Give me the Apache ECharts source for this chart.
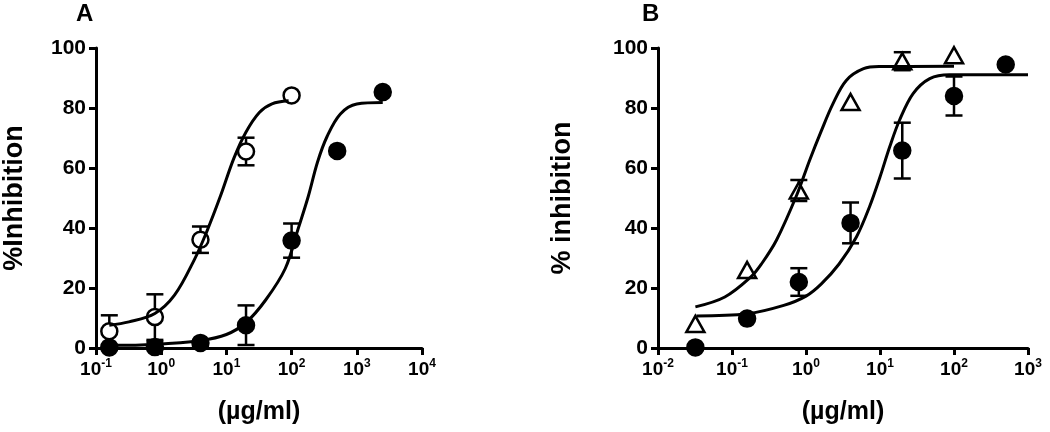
<!DOCTYPE html>
<html>
<head>
<meta charset="utf-8">
<script src="https://cdn.jsdelivr.net/npm/echarts@6/dist/echarts.min.js"></script>
<style>
html,body{margin:0;padding:0;background:#fff;}
#chart{width:1050px;height:432px;}
</style>
</head>
<body>
<div id="chart"></div>
<script>
// ---------- DATA ----------
// Panel A
const concA = [0.16, 0.8, 4, 20, 100, 500, 2500];
const openA = [5.6, 10.3, 36.1, 65.5, 84.2];          // open circles (first 5 concentrations)
const openAErr = [5.3, 7.6, 4.4, 4.6, 0];
const filledA = [0.2, 0.3, 1.7, 7.6, 35.8, 65.7, 85.3];
const filledAErr = [0, 1.8, 0, 6.6, 5.7, 0, 0];
const curveOpenA = [[0.16,7.6],[0.32,8.7],[0.8,11.5],[1.6,17.6],[3.2,29.3],[5,38.8],[8,50.3],[13,63.2],[20,72],[32,78.5],[50,81.4],[90,82.4]];
const curveFilledA = [[0.16,0.9],[0.8,1.2],[4,2.5],[10,4.5],[20,8.5],[40,16],[80,26.5],[125,39.5],[180,50.5],[250,62],[350,70.5],[560,78],[1000,81.3],[2500,81.8]];
const xTickExpA = [-1, 0, 1, 2, 3, 4];

// Panel B
const concB = [0.032, 0.16, 0.8, 4, 20, 100, 500];
const triB = [8, 26, 52.5, 82, 95.6, 97.6];            // open triangles (first 6 concentrations)
const triBErr = [0, 0, 3.5, 0, 3, 0];
const filledB = [0.2, 9.8, 22, 41.7, 65.8, 84, 94.5];
const filledBErr = [0, 0, 4.6, 6.8, 9.3, 6.5, 0];
const curveTriB = [[0.032,13.7],[0.08,17],[0.18,23.7],[0.25,28],[0.4,36],[0.75,51],[1.12,62.6],[1.6,72.2],[2.3,81.3],[3.5,89.2],[6,93.1],[10,93.8],[100,93.9]];
const curveFilledB = [[0.033,10.7],[0.16,11.4],[0.5,14.2],[1,17.3],[1.6,21.3],[2.8,28],[4.8,37],[7.2,47],[10,57],[13.5,67],[18.4,76],[28,84.8],[47,89.8],[87,91.1],[1000,91.1]];
const xTickExpB = [-2, -1, 0, 1, 2, 3];

const yTicks = [0, 20, 40, 60, 80, 100];
const titles = ['A', 'B'];
const yNames = ['%Inhibition', '% inhibition'];
const xName = '(µg/ml)';

// ---------- CHART ----------
const FONT = '"Liberation Sans", Arial, sans-serif';
const chart = echarts.init(document.getElementById('chart'), null, {renderer: 'canvas'});

function pairs(xs, ys) { return ys.map((y, i) => [xs[i], y]); }
function errData(xs, ys, es) { return ys.map((y, i) => [xs[i], y, es[i]]).filter(d => d[2] > 0); }

function xAxisDef(gi, exps) {
  return {
    type: 'log', logBase: 10, gridIndex: gi,
    min: Math.pow(10, exps[0]), max: Math.pow(10, exps[exps.length - 1]),
    splitNumber: exps.length - 1,
    name: xName, nameLocation: 'middle', nameGap: 52,
    nameTextStyle: {fontFamily: FONT, fontWeight: 'bold', fontSize: 25, color: '#000'},
    axisLine: {onZero: false, lineStyle: {color: '#000', width: 3}},
    axisTick: {length: 7, lineStyle: {color: '#000', width: 3}},
    minorTick: {show: false},
    splitLine: {show: false},
    axisLabel: {
      margin: 10, color: '#000',
      formatter: function (v) { return '{b|10}{s|' + Math.round(Math.log10(v)) + '}'; },
      rich: {
        b: {fontFamily: FONT, fontWeight: 'bold', fontSize: 19, color: '#000'},
        s: {fontFamily: FONT, fontWeight: 'bold', fontSize: 12, color: '#000', padding: [0, 0, 12, 0]}
      }
    }
  };
}
function yAxisDef(gi, name, gap) {
  return {
    type: 'value', gridIndex: gi, min: yTicks[0], max: yTicks[yTicks.length - 1], interval: 20,
    name: name, nameLocation: 'middle', nameGap: gap,
    nameTextStyle: {fontFamily: FONT, fontWeight: 'bold', fontSize: 27, color: '#000'},
    axisLine: {lineStyle: {color: '#000', width: 3}},
    axisTick: {length: 7, lineStyle: {color: '#000', width: 3}},
    splitLine: {show: false},
    axisLabel: {margin: 10, fontFamily: FONT, fontWeight: 'bold', fontSize: 21, color: '#000'}
  };
}
function errSeries(xi, data) {
  return {
    type: 'custom', xAxisIndex: xi, yAxisIndex: xi, z: 2, data: data,
    renderItem: function (params, api) {
      const x = api.value(0), y = api.value(1), e = api.value(2);
      const top = api.coord([x, y + e]);
      const bot = api.coord([x, Math.max(y - e, 0.01)]);
      const w = 8.5;
      const st = {stroke: '#000', lineWidth: 2.5};
      return {type: 'group', children: [
        {type: 'line', shape: {x1: top[0], y1: top[1], x2: bot[0], y2: bot[1]}, style: st},
        {type: 'line', shape: {x1: top[0] - w, y1: top[1], x2: top[0] + w, y2: top[1]}, style: st},
        {type: 'line', shape: {x1: bot[0] - w, y1: bot[1], x2: bot[0] + w, y2: bot[1]}, style: st}
      ]};
    }
  };
}
function scatter(xi, data, symbol, size, filled) {
  return {
    type: 'scatter', xAxisIndex: xi, yAxisIndex: xi, z: 3, data: data,
    symbol: symbol, symbolSize: size,
    itemStyle: {color: filled ? '#000' : '#fff', borderColor: '#000', borderWidth: 2.5, opacity: 1},
    emphasis: {disabled: true}
  };
}
function curve(xi, data) {
  return {
    type: 'line', xAxisIndex: xi, yAxisIndex: xi, z: 4, data: data,
    smooth: 0.35, showSymbol: false, symbol: 'none',
    lineStyle: {color: '#000', width: 3}, emphasis: {disabled: true}
  };
}

const option = {
  backgroundColor: '#fff',
  animation: false,
  grid: [
    {left: 95, top: 48, width: 327, height: 300},
    {left: 658, top: 48, width: 370, height: 300}
  ],
  xAxis: [xAxisDef(0, xTickExpA), xAxisDef(1, xTickExpB)],
  yAxis: [yAxisDef(0, yNames[0], 68), yAxisDef(1, yNames[1], 82)],
  graphic: [
    {type: 'text', left: 76, top: 2, style: {text: titles[0], font: 'bold 24px ' + FONT, fill: '#000'}},
    {type: 'text', left: 642, top: 2, style: {text: titles[1], font: 'bold 24px ' + FONT, fill: '#000'}}
  ],
  series: [
    errSeries(0, errData(concA, openA, openAErr)),
    errSeries(0, errData(concA, filledA, filledAErr)),
    scatter(0, pairs(concA, openA), 'circle', 16, false),
    scatter(0, pairs(concA, filledA), 'circle', 16, true),
    curve(0, curveOpenA),
    curve(0, curveFilledA),
    errSeries(1, errData(concB, triB, triBErr)),
    errSeries(1, errData(concB, filledB, filledBErr)),
    scatter(1, pairs(concB, triB), 'triangle', [18, 16], false),
    scatter(1, pairs(concB, filledB), 'circle', 16, true),
    curve(1, curveTriB),
    curve(1, curveFilledB)
  ]
};
chart.setOption(option);
</script>
</body>
</html>
